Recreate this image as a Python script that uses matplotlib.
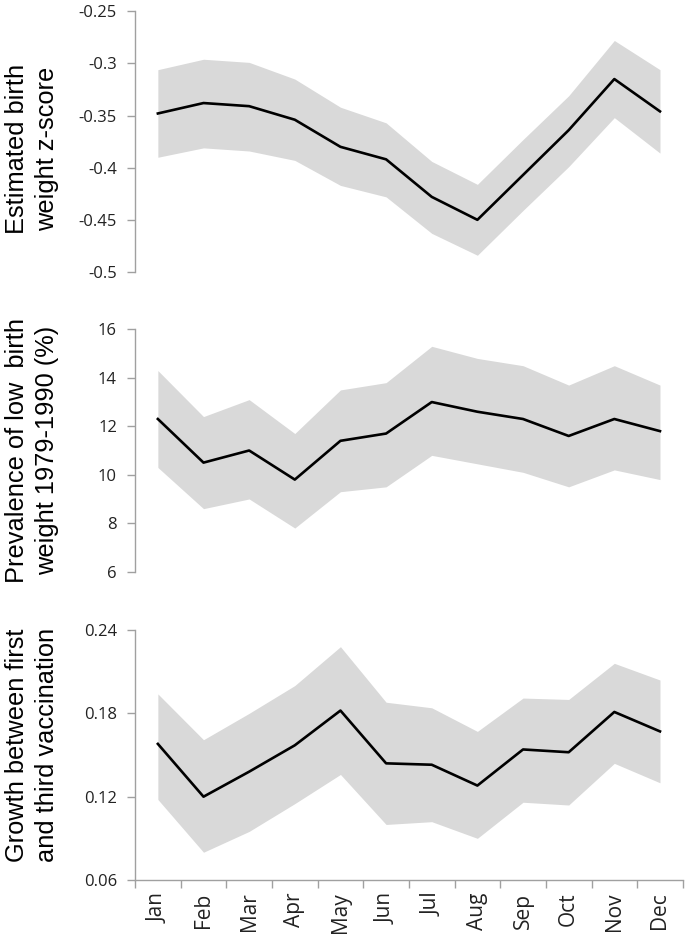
import numpy as np
import matplotlib
matplotlib.use('Agg')
import matplotlib.pyplot as plt

months = ['Jan', 'Feb', 'Mar', 'Apr', 'May', 'Jun', 'Jul', 'Aug', 'Sep', 'Oct', 'Nov', 'Dec']

# panel 1: estimated birth weight z-score
bw_mean = [-0.348, -0.338, -0.341, -0.354, -0.380, -0.392, -0.428, -0.450, -0.407, -0.364, -0.315, -0.346]
bw_upper = [-0.306, -0.296, -0.299, -0.315, -0.342, -0.357, -0.394, -0.416, -0.373, -0.331, -0.278, -0.306]
bw_lower = [-0.390, -0.381, -0.384, -0.393, -0.417, -0.428, -0.463, -0.484, -0.441, -0.399, -0.352, -0.386]

# panel 2: prevalence of low birth weight (%)
lbw_mean = [12.3, 10.5, 11.0, 9.8, 11.4, 11.7, 13.0, 12.6, 12.3, 11.6, 12.3, 11.8]
lbw_upper = [14.3, 12.4, 13.1, 11.7, 13.5, 13.8, 15.3, 14.8, 14.5, 13.7, 14.5, 13.7]
lbw_lower = [10.3, 8.6, 9.0, 7.8, 9.3, 9.5, 10.8, 10.45, 10.1, 9.5, 10.2, 9.8]

# panel 3: growth between first and third vaccination
gr_mean = [0.158, 0.120, 0.138, 0.157, 0.182, 0.144, 0.143, 0.128, 0.154, 0.152, 0.181, 0.167]
gr_upper = [0.194, 0.161, 0.180, 0.200, 0.228, 0.188, 0.184, 0.167, 0.191, 0.190, 0.216, 0.204]
gr_lower = [0.118, 0.080, 0.095, 0.115, 0.136, 0.100, 0.102, 0.090, 0.116, 0.114, 0.144, 0.130]

panels = [
    ('Estimated birth\nweight z-score', bw_mean, bw_upper, bw_lower,
     (-0.5, -0.25), [-0.5, -0.45, -0.4, -0.35, -0.3, -0.25], ['-0.5', '-0.45', '-0.4', '-0.35', '-0.3', '-0.25']),
    ('Prevalence of low  birth\nweight 1979-1990 (%)', lbw_mean, lbw_upper, lbw_lower,
     (6, 16), [6, 8, 10, 12, 14, 16], ['6', '8', '10', '12', '14', '16']),
    ('Growth between first\nand third vaccination', gr_mean, gr_upper, gr_lower,
     (0.06, 0.24), [0.06, 0.12, 0.18, 0.24], ['0.06', '0.12', '0.18', '0.24']),
]

# axes boxes in figure fractions [left, bottom, width, height]
boxes = [
    [0.196, 0.711, 0.795, 0.277],
    [0.196, 0.3925, 0.795, 0.2575],
    [0.196, 0.0648, 0.795, 0.2657],
]
label_y = [0.842, 0.521, 0.208]

tick_font = 'Open Sans'
label_font = ['Liberation Sans', 'DejaVu Sans']
spine_col = '#a0a0a0'

fig = plt.figure(figsize=(6.89, 9.41), dpi=100)
x = np.arange(len(months))

for i, (label, mean, upper, lower, ylim, yticks, ytl) in enumerate(panels):
    ax = fig.add_axes(boxes[i])
    ax.fill_between(x, lower, upper, color='#d9d9d9', linewidth=0)
    ax.plot(x, mean, color='black', linewidth=1.9)
    ax.set_xlim(-0.5, 11.5)
    ax.set_ylim(*ylim)
    ax.set_yticks(yticks)
    ax.set_yticklabels(ytl, fontfamily=tick_font, fontsize=12, color='#222222')
    for s in ['top', 'right']:
        ax.spines[s].set_visible(False)
    ax.spines['left'].set_color(spine_col)
    ax.spines['left'].set_linewidth(1.0)
    ax.tick_params(axis='y', direction='out', length=6, width=1.0, color=spine_col, pad=7)
    if i < 2:
        ax.spines['bottom'].set_visible(False)
        ax.set_xticks([])
    else:
        ax.spines['bottom'].set_color(spine_col)
        ax.spines['bottom'].set_linewidth(1.0)
        ax.set_xticks(np.arange(-0.5, 12, 1))
        ax.set_xticklabels([])
        ax.set_xticks(x, minor=True)
        ax.set_xticklabels(months, minor=True, rotation=90, fontfamily=tick_font,
                           fontsize=15, color='#222222')
        ax.tick_params(axis='x', which='major', direction='out', length=6, width=1.0, color=spine_col)
        ax.tick_params(axis='x', which='minor', length=0, pad=9)
    fig.text(0.046, label_y[i], label, rotation=90, ha='center', va='center',
             multialignment='center', fontsize=18.3, fontfamily=label_font,
             linespacing=1.3)

fig.savefig('out.png', dpi=100)
